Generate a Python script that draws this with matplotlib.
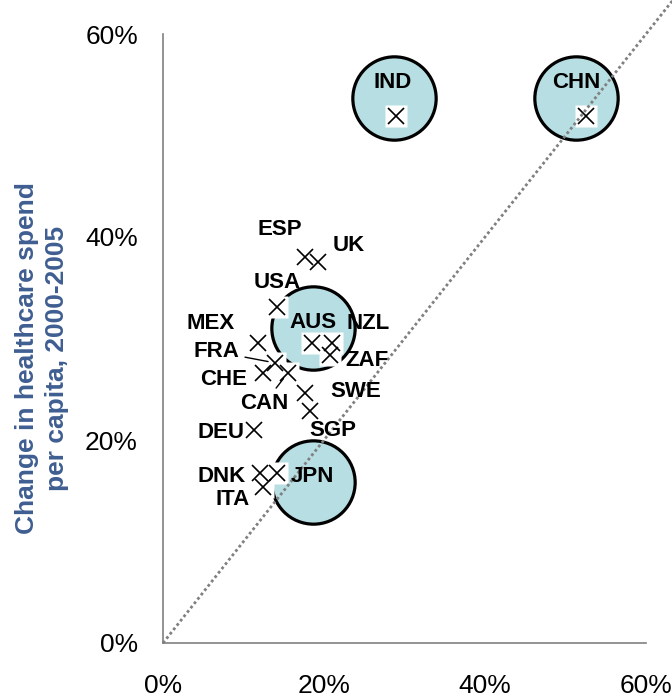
import matplotlib
matplotlib.use("Agg")
import matplotlib.pyplot as plt
from matplotlib.ticker import PercentFormatter

plt.rcParams["font.family"] = ["Liberation Sans", "DejaVu Sans"]

# Change in GDP per capita (x) vs change in healthcare spend per capita (y)
countries = ["ESP", "UK", "USA", "MEX", "AUS", "NZL", "ZAF", "FRA", "CHE",
             "CAN", "SWE", "SGP", "DEU", "DNK", "JPN", "ITA", "IND", "CHN"]
gdp_change = [0.176, 0.193, 0.142, 0.118, 0.185, 0.210, 0.207, 0.139, 0.124,
              0.155, 0.176, 0.183, 0.113, 0.120, 0.142, 0.124, 0.289, 0.525]
spend_change = [0.380, 0.375, 0.331, 0.296, 0.296, 0.296, 0.284, 0.276, 0.266,
                0.266, 0.246, 0.229, 0.210, 0.167, 0.167, 0.154, 0.519, 0.519]

# Highlighted markets
bubble_names = ["IND", "CHN", "AUS", "JPN"]
bubble_x = [0.287, 0.513, 0.186, 0.186]
bubble_y = [0.537, 0.537, 0.310, 0.159]

# label placement (offset in points from the point); bubble markets use the bubble label
label_offsets = {
    "ESP": (-18, 20), "UK": (22, 12), "USA": (0, 18), "MEX": (-34, 14),
    "NZL": (26, 14), "ZAF": (27, -4), "FRA": (-42, 8), "CHE": (-28, -5),
    "CAN": (-17, -22), "SWE": (37, 1), "SGP": (16, -14), "DEU": (-24, -2),
    "DNK": (-27, -2), "ITA": (-22, -9),
}
leader_lines = {"FRA", "CAN"}
bubble_label_offsets = {"IND": (-1, 11), "CHN": (0, 11), "AUS": (0, 4), "JPN": (0, 4)}

fig = plt.figure(figsize=(6.72, 6.99), dpi=100)
ax = fig.add_axes([163 / 672, 1 - 643 / 699, 483 / 672, 609 / 699])

ax.scatter(bubble_x, bubble_y, s=3600, color="#B7DEE2", edgecolor="black",
           linewidth=2.3, zorder=2)
ax.plot(gdp_change, spend_change, ls="none", marker="s", ms=16,
        color="white", mec="none", zorder=3)
ax.plot(gdp_change, spend_change, ls="none", marker="x", ms=11.5, mew=1.2,
        color="black", zorder=4)

# parity line
ax.plot([0, 0.64], [0, 0.64], color="#808080", lw=2.0, ls=(0, (1, 1)),
        zorder=5, clip_on=False)

for name, x, y in zip(countries, gdp_change, spend_change):
    if name not in label_offsets:
        continue
    props = None
    if name in leader_lines:
        props = dict(arrowstyle="-", color="black", lw=1.0, shrinkA=2, shrinkB=5)
    ax.annotate(name, (x, y), xytext=label_offsets[name], textcoords="offset points",
                ha="center", va="center", fontsize=16, fontweight="bold",
                arrowprops=props, zorder=6)

for name, x, y in zip(bubble_names, bubble_x, bubble_y):
    ax.annotate(name, (x, y), xytext=bubble_label_offsets[name],
                textcoords="offset points", ha="center", va="center",
                fontsize=16, fontweight="bold", zorder=6)

ax.set_xlim(0, 0.6)
ax.set_ylim(0, 0.6)
ax.set_xticks([0, 0.2, 0.4, 0.6])
ax.set_yticks([0, 0.2, 0.4, 0.6])
ax.xaxis.set_major_formatter(PercentFormatter(1.0, decimals=0))
ax.yaxis.set_major_formatter(PercentFormatter(1.0, decimals=0))
ax.tick_params(length=0, labelsize=19)
ax.tick_params(axis="x", pad=22)
ax.tick_params(axis="y", pad=18)
for side in ("top", "right"):
    ax.spines[side].set_visible(False)
for side in ("left", "bottom"):
    ax.spines[side].set_color("#808080")
    ax.spines[side].set_linewidth(1.2)

fig.text(42 / 672, 1 - 358 / 699, "Change in healthcare spend\nper capita, 2000-2005",
         rotation=90, ha="center", va="center", fontsize=19, fontweight="bold",
         color="#3F5E91", linespacing=1.35, multialignment="center")

fig.savefig("out.png", dpi=100)
